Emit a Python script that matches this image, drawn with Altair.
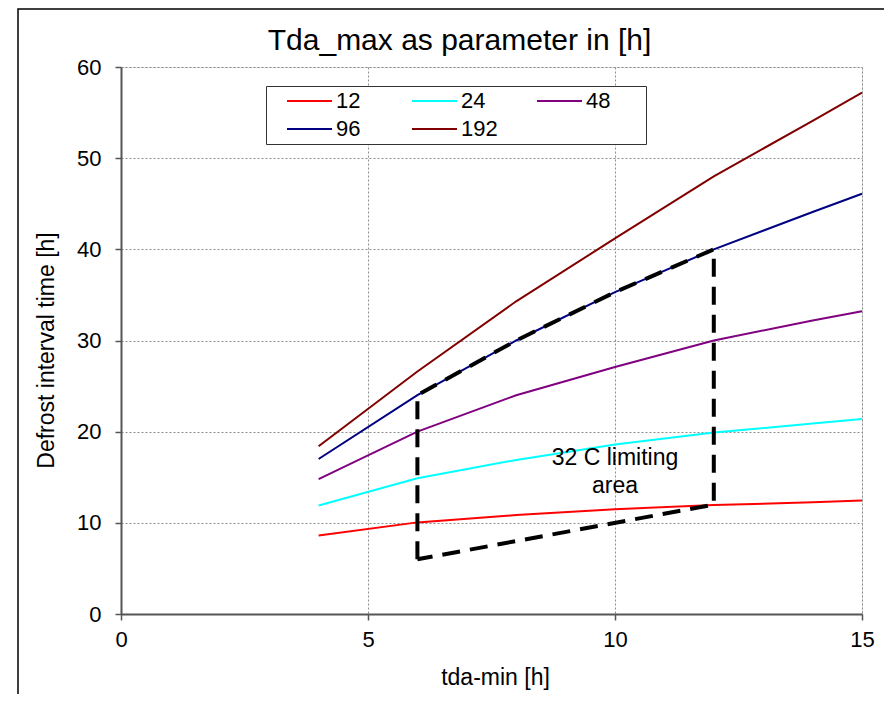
import altair as alt
import pandas as pd

# ---- data ----
x_vals = [4, 6, 8, 10, 12, 14, 15]
s12 = [8.6, 10.05, 10.85, 11.5, 11.95, 12.25, 12.45]
s24 = [11.9, 14.9, 16.9, 18.6, 19.9, 20.9, 21.4]
s48 = [14.8, 20.0, 24.0, 27.1, 30.0, 32.2, 33.2]
s96 = [17.0, 24.0, 30.0, 35.3, 40.0, 44.1, 46.1]
s192 = [18.4, 26.6, 34.3, 41.2, 48.0, 54.1, 57.2]
series_names = ["12", "24", "48", "96", "192"]
series_colors = ["#FF0000", "#00FFFF", "#800080", "#000080", "#800000"]

# dashed "32 C limiting area" outline
area_x = [6, 6, 8, 10, 12, 12, 6]
area_y = [6.0, 24.0, 30.0, 35.3, 40.0, 12.0, 6.0]

ann_x = [10]
ann_y = [17.1]
ann_text = ["32 C limiting\narea"]

x_ticks = [0, 5, 10, 15]
y_ticks = [0, 10, 20, 30, 40, 50, 60]

FONT = "Liberation Sans"
W, H = 741, 547

rows = []
for name, vals in zip(series_names, [s12, s24, s48, s96, s192]):
    for xv, yv in zip(x_vals, vals):
        rows.append({"tda": xv, "interval": yv, "Tda_max": name})
df = pd.DataFrame(rows)

df_area = pd.DataFrame({"tda": area_x, "interval": area_y, "idx": list(range(len(area_x)))})
df_ann = pd.DataFrame({"tda": ann_x, "interval": ann_y, "label": ann_text})
df_frame = pd.DataFrame({"k": [0]})

xs = alt.Scale(domain=[0, 15], nice=False, zero=True)
ys = alt.Scale(domain=[0, 60], nice=False, zero=True)

x_axis = alt.Axis(values=x_ticks, title="tda-min [h]", titleFontSize=23, titleFontWeight="normal",
                  titleFont=FONT, titleColor="black", titleY=70, titleBaseline="alphabetic",
                  titleX=374, labelFontSize=22, labelFont=FONT, labelColor="black",
                  labelPadding=9, tickSize=6, tickColor="#555555", tickWidth=1.5,
                  domainColor="#555555", domainWidth=2, grid=True, gridColor="#8c8c8c",
                  gridDash=[2, 2], gridWidth=1, labelFlush=False)
y_axis = alt.Axis(values=y_ticks, title="Defrost interval time [h]", titleFontSize=23,
                  titleFontWeight="normal", titleFont=FONT, titleColor="black",
                  titleX=-68, titleY=283, titleAngle=270, titleBaseline="alphabetic",
                  titleAlign="center", labelFontSize=22, labelFont=FONT, labelColor="black",
                  labelPadding=14, tickSize=6, tickColor="#555555", tickWidth=1.5,
                  domainColor="#555555", domainWidth=2, grid=True, gridColor="#8c8c8c",
                  gridDash=[2, 2], gridWidth=1, labelFlush=False)

legend = alt.Legend(orient="none", legendX=145, legendY=19, columns=3, direction="horizontal",
                    title="\u00a0", titleOrient="right", titlePadding=32, titleFontSize=22,
                    symbolType="stroke", symbolSize=2025, symbolStrokeWidth=2,
                    labelFontSize=22, labelFont=FONT, labelColor="black",
                    labelOffset=3, symbolOffset=16, padding=4, rowPadding=6,
                    columnPadding=22, gridAlign="all", clipHeight=22,
                    strokeColor="#333333", fillColor="white")

lines = alt.Chart(df).mark_line(strokeWidth=2).encode(
    x=alt.X("tda:Q", scale=xs, axis=x_axis),
    y=alt.Y("interval:Q", scale=ys, axis=y_axis),
    color=alt.Color("Tda_max:N", scale=alt.Scale(domain=series_names, range=series_colors),
                    sort=series_names, legend=legend),
)

area = alt.Chart(df_area).mark_line(color="black", strokeWidth=4, strokeDash=[18, 10]).encode(
    x=alt.X("tda:Q", scale=xs, axis=x_axis),
    y=alt.Y("interval:Q", scale=ys, axis=y_axis),
    order=alt.Order("idx:Q"),
)

ann = alt.Chart(df_ann).mark_text(fontSize=23, font=FONT, lineBreak="\n", lineHeight=28,
                                  align="center", baseline="middle", color="black").encode(
    x=alt.X("tda:Q", scale=xs, axis=x_axis),
    y=alt.Y("interval:Q", scale=ys, axis=y_axis),
    text="label:N",
)

frame = alt.Chart(df_frame).mark_rect(fill="transparent", stroke="black", strokeWidth=1.5).encode(
    x=alt.value(-103), x2=alt.value(900), y=alt.value(-58), y2=alt.value(800)
)

chart = alt.layer(lines, area, ann, frame).properties(
    width=W, height=H,
    title=alt.TitleParams("Tda_max as parameter in [h]", fontSize=30, font=FONT,
                          fontWeight="normal", anchor="middle", frame="group", dx=-32,
                          offset=-72, baseline="alphabetic", color="black"),
    autosize=alt.AutoSizeParams(type="none"),
    padding={"left": 113, "top": 59, "right": 22, "bottom": 80},
).configure_view(stroke="#8a8a8a", strokeWidth=2).configure(font=FONT)

chart.save("out.html", embed_options={"renderer": "svg", "actions": False})
